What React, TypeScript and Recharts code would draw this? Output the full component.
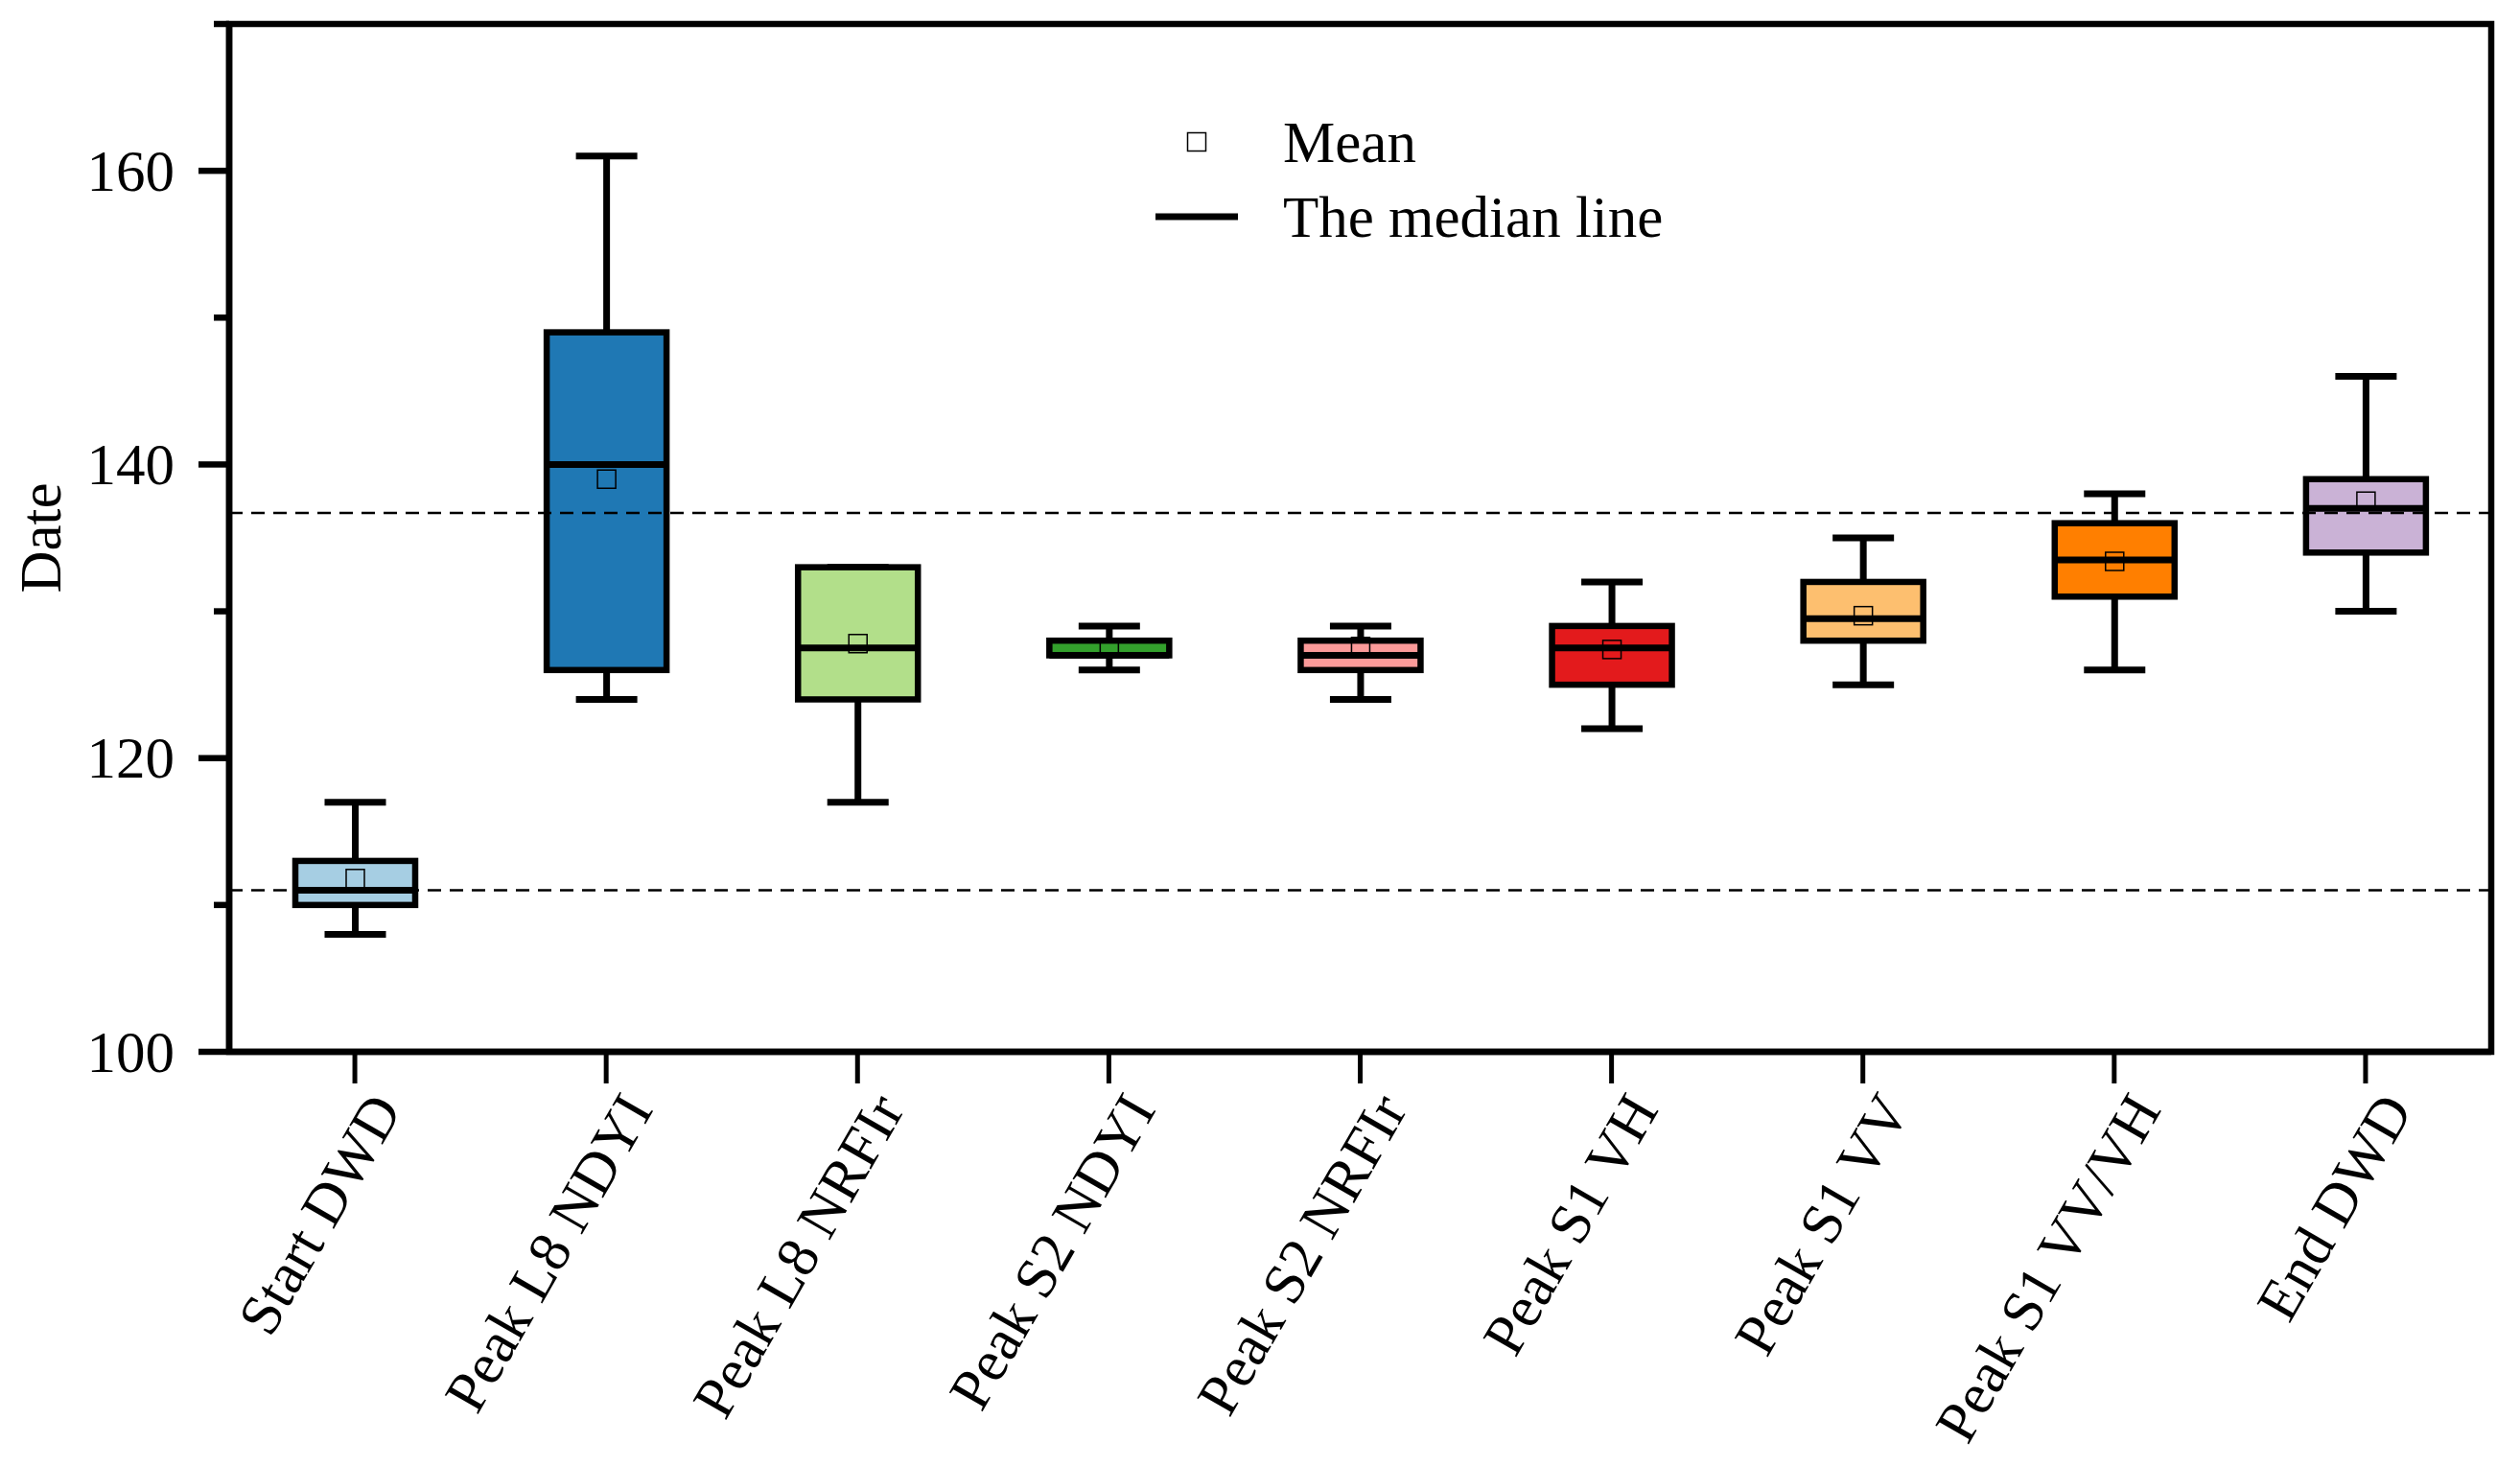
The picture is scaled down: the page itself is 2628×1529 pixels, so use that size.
import React from 'react';
import { ComposedChart, Bar, XAxis, YAxis, ReferenceLine, ReferenceArea, Legend, Label } from 'recharts';

const categories = [
  'Start DWD',
  'Peak L8 NDYI',
  'Peak L8 NRFIr',
  'Peak S2 NDYI',
  'Peak S2 NRFIr',
  'Peak S1 VH',
  'Peak S1 VV',
  'Peak S1 VV/VH',
  'End DWD',
];
const minValues = [108, 124, 117, 126, 124, 122, 125, 126, 130];
const q1Values = [110, 126, 124, 127, 126, 125, 128, 131, 134];
const medianValues = [111, 140, 127.5, 127, 127, 127.5, 129.5, 133.5, 137];
const q3Values = [113, 149, 133, 128, 128, 129, 132, 136, 139];
const maxValues = [117, 161, 133, 129, 129, 132, 135, 138, 146];
const meanValues = [111.8, 139, 127.8, 127.5, 127.6, 127.4, 129.7, 133.4, 137.5];

const yTicks = [100, 110, 120, 130, 140, 150, 160, 170];
const majorTicks = [100, 120, 140, 160];
const refLines = [111, 136.7];

const boxColors = [
  '#a6cee3',
  '#1f78b4',
  '#b2df8a',
  '#33a02c',
  '#fb9a99',
  '#e31a1c',
  '#fdbf6f',
  '#ff7f00',
  '#cab2d6',
];

const FONT = '"Liberation Serif", "Times New Roman", serif';

const data = categories.map((name, i) => ({
  name,
  range: [minValues[i], maxValues[i]],
  min: minValues[i],
  q1: q1Values[i],
  median: medianValues[i],
  q3: q3Values[i],
  max: maxValues[i],
  mean: meanValues[i],
}));

// draws one box from the range bar the library placed
const BoxShape = (props: any) => {
  const { x, y, width, height, payload, index } = props;
  const top = Math.min(y, y + height);
  const bottom = Math.max(y, y + height);
  const toY = (v: number) =>
    bottom - ((v - payload.min) / (payload.max - payload.min)) * (bottom - top);
  const cx = x + width / 2;
  const cap = width * 0.256;
  const yMin = toY(payload.min);
  const yMax = toY(payload.max);
  const yQ1 = toY(payload.q1);
  const yQ3 = toY(payload.q3);
  const yMed = toY(payload.median);
  const yMean = toY(payload.mean);
  return (
    <g>
      <line x1={cx} x2={cx} y1={yMax} y2={yMin} stroke="#000" strokeWidth={7} />
      <line x1={cx - cap} x2={cx + cap} y1={yMax} y2={yMax} stroke="#000" strokeWidth={7} />
      <line x1={cx - cap} x2={cx + cap} y1={yMin} y2={yMin} stroke="#000" strokeWidth={7} />
      <rect
        x={x}
        y={yQ3}
        width={width}
        height={yQ1 - yQ3}
        fill={boxColors[index]}
        stroke="#000"
        strokeWidth={6.5}
      />
      <line x1={x} x2={x + width} y1={yMed} y2={yMed} stroke="#000" strokeWidth={7} />
      <rect
        x={cx - 9.5}
        y={yMean - 9.5}
        width={19}
        height={19}
        fill="none"
        stroke="#000"
        strokeWidth={1.5}
      />
    </g>
  );
};

const XTick = ({ x, y, payload }: any) => (
  <g>
    <line x1={x} x2={x} y1={y} y2={y + 33} stroke="#000" strokeWidth={5} />
    <text
      x={x + 50}
      y={y + 60}
      transform={`rotate(-60, ${x + 50}, ${y + 60})`}
      textAnchor="end"
      fontFamily={FONT}
      fontSize={61}
      fill="#000"
    >
      {payload.value}
    </text>
  </g>
);

const YTick = ({ x, y, payload }: any) => {
  const major = majorTicks.includes(payload.value);
  return (
    <g>
      <line x1={x - (major ? 32 : 16)} x2={x} y1={y} y2={y} stroke="#000" strokeWidth={6.5} />
      {major && (
        <text
          x={x - 57}
          y={y}
          dy="0.34em"
          textAnchor="end"
          fontFamily={FONT}
          fontSize={61}
          fill="#000"
        >
          {payload.value}
        </text>
      )}
    </g>
  );
};

const LegendBox = () => (
  <svg width={620} height={170}>
    <rect x={58.5} y={38.5} width={19} height={19} fill="none" stroke="#000" strokeWidth={1.5} />
    <text x={158} y={69} fontFamily={FONT} fontSize={61} fill="#000">
      Mean
    </text>
    <line x1={25} x2={111} y1={126} y2={126} stroke="#000" strokeWidth={7} />
    <text x={158} y={147} fontFamily={FONT} fontSize={61} fill="#000">
      The median line
    </text>
  </svg>
);

export default function App() {
  return (
    <div style={{ position: 'absolute', left: 0, top: 0, background: '#fff' }}>
      <ComposedChart
        width={2628}
        height={1529}
        data={data}
        margin={{ top: 25, right: 30, bottom: 32, left: 0 }}
      >
        <XAxis
          dataKey="name"
          interval={0}
          height={400}
          tickSize={0}
          tickMargin={0}
          tickLine={false}
          axisLine={{ stroke: '#000', strokeWidth: 6.5 }}
          tick={<XTick />}
        />
        <YAxis
          type="number"
          domain={[100, 170]}
          ticks={yTicks}
          interval={0}
          width={239}
          tickSize={0}
          tickMargin={0}
          tickLine={false}
          axisLine={{ stroke: '#000', strokeWidth: 6.5 }}
          tick={<YTick />}
        >
          <Label
            content={({ viewBox }: any) => {
              const lx = viewBox.x + 42;
              const ly = viewBox.y + viewBox.height / 2;
              return (
                <text
                  x={lx}
                  y={ly}
                  transform={`rotate(-90, ${lx}, ${ly})`}
                  textAnchor="middle"
                  dominantBaseline="central"
                  fontFamily={FONT}
                  fontSize={61}
                  fill="#000"
                >
                  Date
                </text>
              );
            }}
          />
        </YAxis>
        {/* plot frame */}
        <ReferenceArea
          y1={100}
          y2={170}
          fill="none"
          fillOpacity={0}
          stroke="#000"
          strokeWidth={6.5}
        />
        <Bar
          dataKey="range"
          barSize={125}
          shape={<BoxShape />}
          isAnimationActive={false}
          activeBar={false}
        />
        {refLines.map((v) => (
          <ReferenceLine
            key={v}
            y={v}
            stroke="#000"
            strokeWidth={2.5}
            strokeDasharray="14 9"
          />
        ))}
        <Legend
          layout="vertical"
          align="center"
          verticalAlign="middle"
          content={<LegendBox />}
          wrapperStyle={{ left: 1180, top: 100, width: 620, height: 170 }}
        />
      </ComposedChart>
    </div>
  );
}
